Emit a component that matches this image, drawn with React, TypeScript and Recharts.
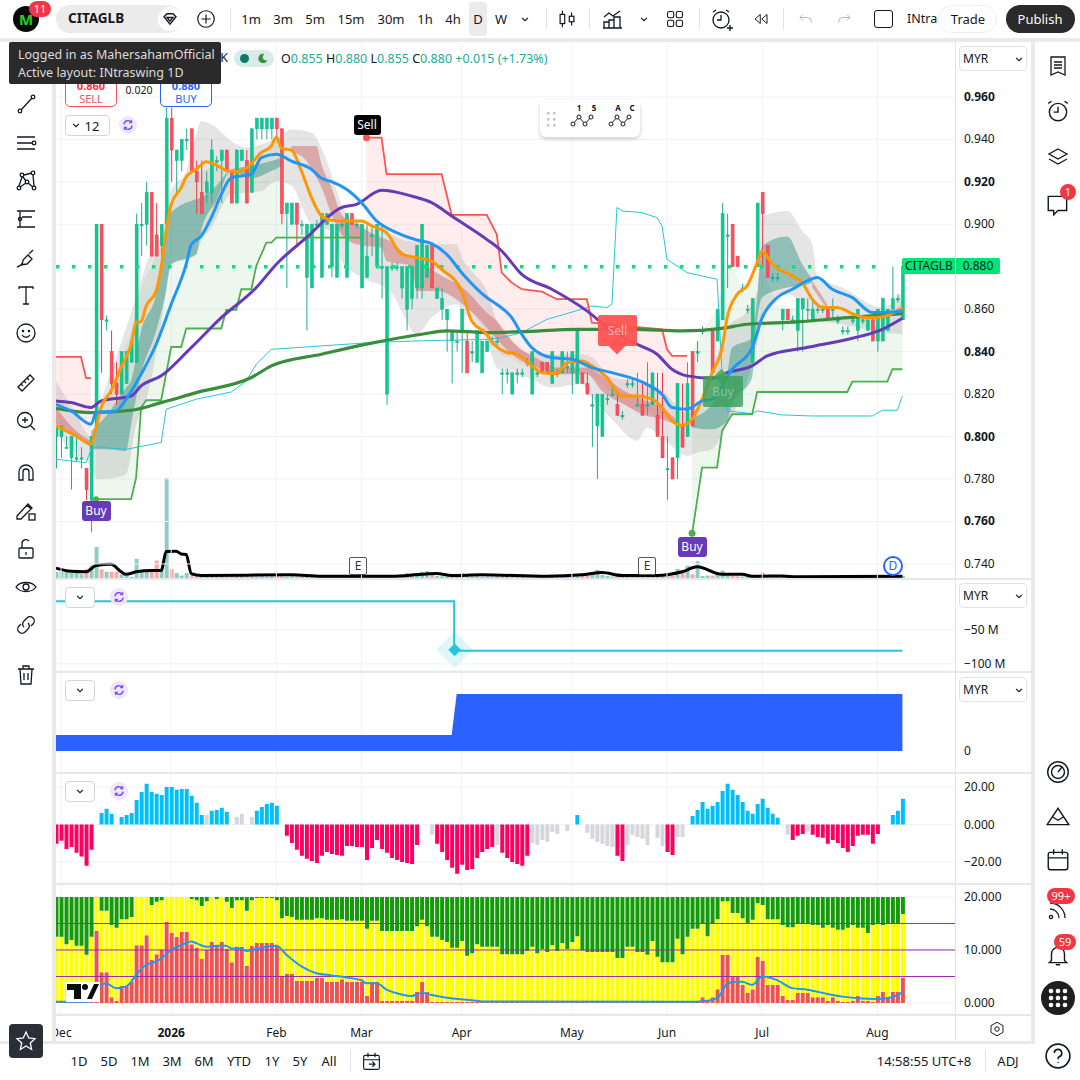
import { Area, Bar, CartesianGrid, ComposedChart, Line, ReferenceDot, ReferenceLine, XAxis, YAxis } from "recharts";

const FONT = '"Noto Sans", sans-serif';
const BAR_COUNT = 180;

const monthTicks = [1, 23, 44, 61, 81, 103, 122, 141, 164];
const monthNames = ["Dec", "2026", "Feb", "Mar", "Apr", "May", "Jun", "Jul", "Aug"];
const priceTicks = [0.74, 0.76, 0.78, 0.8, 0.82, 0.84, 0.86, 0.9, 0.92, 0.94, 0.96];
const boldPrices = ["0.960", "0.920", "0.840", "0.800", "0.760"];
const lastPrice = 0.88;

// open, high, low, close per daily bar
const ohlc: number[][] = [
  [.80,.805,.785,.805],[.80,.805,.79,.805],[.795,.80,.795,.795],[.79,.80,.775,.80],[.79,.80,.788,.79],[.79,.795,.785,.79],[.785,.785,.77,.775],[.77,.80,.755,.80],[.805,.90,.805,.90],[.90,.90,.83,.855],
  [.855,.857,.85,.855],[.84,.85,.82,.825],[.825,.835,.815,.82],[.82,.84,.82,.84],[.825,.84,.825,.84],[.835,.845,.835,.845],[.835,.905,.835,.90],[.90,.91,.885,.90],[.90,.92,.89,.915],[.915,.915,.885,.885],
  [.895,.91,.885,.885],[.89,.90,.88,.90],[.90,.955,.90,.95],[.95,.955,.92,.935],[.93,.935,.915,.935],[.93,.94,.925,.94],[.94,.945,.935,.94],[.945,.945,.925,.925],[.925,.93,.905,.92],[.915,.93,.905,.905],
  [.915,.925,.91,.92],[.915,.94,.91,.935],[.93,.932,.925,.93],[.93,.935,.91,.935],[.935,.935,.925,.925],[.925,.925,.91,.91],[.91,.935,.91,.935],[.93,.935,.93,.935],[.93,.935,.91,.91],[.915,.945,.915,.945],
  [.945,.95,.94,.95],[.945,.95,.94,.95],[.945,.95,.94,.95],[.945,.95,.94,.95],[.95,.95,.94,.945],[.945,.945,.90,.905],[.905,.91,.87,.91],[.90,.91,.90,.91],[.91,.91,.89,.90],[.90,.902,.895,.90],
  [.875,.90,.85,.90],[.87,.90,.87,.90],[.90,.902,.898,.90],[.875,.905,.875,.905],[.90,.905,.90,.905],[.88,.90,.875,.90],[.875,.90,.875,.90],[.90,.902,.898,.90],[.875,.905,.875,.905],[.905,.905,.90,.90],
  [.90,.902,.898,.90],[.87,.90,.87,.90],[.875,.90,.875,.885],[.895,.90,.885,.895],[.88,.90,.88,.90],[.88,.90,.865,.88],[.82,.88,.815,.88],[.88,.882,.878,.88],[.88,.882,.878,.88],[.87,.88,.865,.88],
  [.86,.88,.85,.88],[.865,.88,.86,.88],[.87,.89,.865,.89],[.87,.90,.865,.90],[.875,.89,.875,.89],[.89,.89,.87,.87],[.865,.87,.865,.87],[.86,.87,.855,.865],[.855,.86,.84,.86],[.845,.85,.825,.85],
  [.845,.85,.84,.845],[.85,.86,.83,.86],[.845,.85,.83,.83],[.84,.845,.835,.84],[.835,.85,.835,.85],[.83,.845,.83,.845],[.84,.845,.84,.845],[.845,.847,.843,.845],[.845,.847,.843,.845],[.83,.832,.82,.83],
  [.83,.832,.825,.83],[.82,.83,.82,.83],[.83,.832,.825,.83],[.83,.832,.828,.83],[.835,.837,.833,.835],[.82,.84,.82,.84],[.83,.832,.828,.83],[.835,.835,.83,.83],[.835,.835,.83,.83],[.825,.84,.825,.84],
  [.83,.832,.828,.83],[.83,.84,.83,.84],[.833,.84,.83,.833],[.83,.84,.82,.84],[.825,.85,.825,.85],[.83,.83,.825,.825],[.825,.83,.82,.82],[.815,.82,.795,.815],[.805,.82,.78,.82],[.80,.82,.80,.82],
  [.818,.82,.815,.818],[.82,.825,.82,.82],[.815,.82,.81,.81],[.81,.812,.808,.81],[.825,.827,.823,.825],[.825,.827,.823,.825],[.815,.83,.815,.815],[.815,.825,.81,.81],[.815,.835,.81,.815],[.815,.83,.815,.83],
  [.81,.83,.80,.80],[.80,.83,.79,.79],[.785,.80,.77,.785],[.79,.79,.78,.78],[.79,.825,.78,.825],[.805,.825,.795,.795],[.80,.835,.80,.825],[.84,.84,.805,.805],[.84,.845,.835,.84],[.85,.852,.848,.85],
  [.825,.827,.823,.825],[.85,.85,.83,.83],[.845,.86,.845,.86],[.855,.91,.855,.905],[.895,.905,.87,.895],[.90,.90,.88,.88],[.885,.885,.88,.88],[.87,.872,.868,.87],[.86,.862,.858,.86],[.835,.865,.835,.865],
  [.88,.91,.88,.91],[.915,.915,.88,.905],[.89,.89,.875,.875],[.875,.877,.873,.875],[.875,.877,.873,.875],[.855,.86,.85,.86],[.86,.86,.855,.855],[.855,.857,.853,.855],[.85,.865,.84,.865],[.86,.865,.84,.865],
  [.86,.865,.855,.86],[.855,.865,.855,.86],[.86,.862,.858,.86],[.86,.862,.858,.86],[.86,.86,.855,.855],[.86,.865,.855,.86],[.855,.857,.853,.855],[.85,.852,.848,.85],[.85,.852,.848,.85],[.855,.857,.853,.855],
  [.85,.86,.845,.86],[.855,.857,.853,.855],[.85,.855,.85,.855],[.855,.855,.845,.845],[.845,.86,.84,.86],[.845,.865,.845,.865],[.85,.86,.85,.86],[.86,.88,.86,.865],[.865,.867,.863,.865],[.855,.88,.855,.88],
];

// [bar, value] at the turning points of each line
const emaFast = [[0,.805],[2,.8027],[4,.8003],[7,.7964],[8,.8042],[9,.8137],[11,.8215],[13,.8325],[15,.8435],[16,.8537],[17,.8542],[18,.8615],[20,.8686],[21,.8796],[22,.8969],[23,.9094],[25,.9173],[26,.9223],[28,.9259],[30,.9295],[32,.9279],[34,.9254],[36,.9248],[38,.9264],[41,.9338],[43,.9369],[44,.9411],[45,.9358],[47,.9349],[49,.9251],[51,.9126],[53,.9039],[55,.9019],[58,.9016],[61,.9016],[63,.8992],[66,.8961],[69,.8859],[72,.8843],[75,.8827],[77,.8788],[81,.8686],[83,.8545],[86,.8482],[87,.8447],[90,.8396],[92,.8388],[95,.8333],[97,.8301],[100,.8297],[102,.8348],[105,.8356],[107,.8333],[110,.8278],[113,.8191],[116,.8191],[119,.8176],[121,.8137],[123,.8074],[125,.8053],[127,.8081],[129,.8176],[131,.8301],[133,.8419],[134,.856],[136,.867],[138,.871],[140,.8819],[141,.8874],[143,.8812],[147,.8757],[149,.8725],[151,.8647],[153,.8608],[156,.8608],[159,.8579],[162,.856],[165,.8564],[169,.8608]];
const emaMid = [[0,.8152],[3,.8121],[7,.8058],[8,.8113],[12,.8121],[14,.8176],[17,.8294],[20,.8435],[23,.8623],[26,.8812],[27,.8903],[29,.8945],[31,.9031],[33,.9141],[35,.922],[39,.9236],[41,.9314],[44,.933],[47,.9298],[51,.9259],[53,.9217],[55,.9201],[58,.9165],[61,.9102],[64,.9016],[68,.8961],[72,.8926],[75,.8909],[78,.8859],[81,.8772],[86,.8655],[88,.8623],[91,.856],[93,.8482],[95,.8419],[99,.8372],[103,.8364],[107,.8325],[111,.8301],[118,.8246],[121,.8199],[123,.8137],[126,.8129],[129,.8168],[131,.8176],[135,.8317],[139,.8419],[141,.856],[144,.8655],[147,.8694],[150,.8733],[152,.8749],[155,.8694],[159,.8655],[163,.8584],[167,.8587],[169,.8592]];
const emaSlow = [[0,.8168],[3,.816],[7,.8137],[9,.8168],[15,.8191],[17,.8239],[21,.8286],[27,.8419],[33,.856],[40,.8702],[44,.8812],[50,.8937],[57,.9079],[60,.9094],[65,.916],[71,.9133],[75,.9102],[79,.9039],[86,.8929],[89,.8874],[93,.8764],[99,.8694],[106,.8592],[111,.8498],[116,.8435],[120,.8388],[123,.8317],[126,.8286],[131,.8275],[134,.8301],[139,.8333],[142,.838],[149,.8416],[154,.8438],[159,.8463],[165,.8505],[169,.8557]];
const sma200 = [[0,.8133],[7,.8113],[15,.8124],[21,.816],[28,.8207],[39,.8278],[43,.8333],[53,.8388],[63,.844],[73,.8482],[78,.8498],[86,.849],[93,.8494],[104,.8505],[115,.8505],[125,.8498],[133,.851],[138,.8529],[148,.854],[158,.856],[169,.8579]];
const channel = [[0,.7893],[6,.7877],[7,.794],[8,.7951],[14,.794],[21,.7972],[22,.8129],[28,.8176],[35,.821],[38,.8262],[40,.8341],[43,.8411],[53,.8427],[63,.8443],[73,.8451],[86,.8458],[89,.8466],[93,.849],[98,.8552],[105,.86],[107,.8615],[110,.8608],[111,.8623],[112,.9079],[113,.9063],[117,.9055],[120,.9031],[121,.8992],[122,.8835],[126,.8772],[132,.8741],[133,.8294],[134,.8121],[139,.8108],[140,.8121],[145,.8102],[151,.8097],[163,.8097],[165,.8124],[168,.8124],[169,.8191]];

// trailing stop lines, each with the edge of its fill: [bar, low, high]
const stopDownA = [[0,.806,.8375],[5,.80,.8375],[6,.798,.8275],[7,.796,.8275]];
const stopDownB = [[62,.9016,.9408],[65,.8961,.9408],[66,.894,.9236],[72,.883,.9236],[77,.878,.9236],[79,.874,.9044],[86,.848,.9044],[88,.842,.8953],[89,.838,.8772],[91,.837,.8725],[93,.834,.8694],[97,.831,.8683],[100,.829,.8647],[106,.83,.8647],[107,.829,.8537],[114,.814,.852],[121,.81,.8505],[122,.809,.8411],[123,.807,.838],[126,.805,.838]];
const stopUpA = [[8,.7705,.8045],[15,.7705,.85],[16,.7807,.86],[17,.8137,.87],[18,.8171,.875],[21,.8171,.89],[23,.8422,.91],[25,.8422,.917],[26,.8509,.922],[33,.8509,.929],[34,.8597,.926],[36,.8597,.925],[37,.8694,.9255],[39,.8694,.927],[40,.8804,.93],[42,.8914,.935],[43,.8914,.937],[44,.8937,.9411],[45,.8937,.934],[46,.8937,.901],[61,.8937,.90]];
const stopUpB = [[127,.754,.8403],[129,.7854,.8498],[132,.7854,.86],[133,.8027,.87],[135,.8105,.8804],[137,.8105,.8702],[139,.8105,.876],[140,.821,.8843],[144,.821,.8623],[151,.821,.8576],[158,.821,.856],[159,.8259,.856],[166,.8259,.857],[167,.8317,.86],[169,.8317,.8639]];

// [bar, low, high] of the shaded bands
const grayBand = [[0,.8011,.8262],[4,.7917,.8105],[7,.7854,.80],[8,.7799,.8089],[12,.7807,.8372],[14,.7823,.8513],[16,.8058,.8655],[18,.8168,.8812],[21,.8529,.8953],[23,.8812,.9157],[26,.8835,.9251],[28,.8859,.9424],[29,.8921,.9484],[31,.8984,.9471],[35,.9141,.9392],[38,.9149,.9361],[41,.9157,.9377],[44,.9204,.9408],[47,.9181,.9447],[51,.90,.9432],[53,.8984,.9361],[55,.8969,.9236],[57,.8827,.9094],[60,.8764,.9008],[67,.8678,.8953],[69,.8592,.8929],[72,.8482,.8914],[75,.856,.8906],[80,.8623,.8906],[81,.8592,.8843],[83,.8545,.878],[86,.8451,.8686],[88,.8325,.8545],[91,.8294,.8451],[94,.8278,.8396],[99,.8231,.8388],[105,.8246,.8388],[107,.8184,.8372],[111,.8081,.8278],[116,.798,.8262],[118,.8042,.8246],[121,.7995,.8215],[126,.7909,.8113],[128,.7925,.8144],[131,.794,.8309],[134,.8058,.8513],[138,.8262,.8592],[140,.8435,.8686],[141,.8545,.9035],[146,.867,.9063],[149,.8623,.8969],[151,.856,.8906],[152,.8545,.8749],[157,.8529,.8702],[165,.849,.8608],[169,.8482,.8686]];
const tealBandA = [[7,.794,.8027],[10,.794,.8097],[14,.7932,.8231],[15,.8058,.8262],[17,.8294,.8498],[20,.8498,.867],[22,.8686,.8937],[23,.8812,.9055],[28,.8859,.9118],[29,.8969,.9126],[32,.911,.9181],[35,.9251,.9259],[39,.9217,.9275],[43,.9251,.9298],[45,.9275,.9314]];
const tealBandB = [[127,.8042,.8089],[131,.8034,.8152],[134,.8074,.8294],[135,.8152,.8419],[139,.8278,.8466],[140,.8545,.8655],[141,.8655,.8898],[146,.8702,.8942],[149,.871,.8812],[151,.8725,.8741]];
const redBandA = [[0,.8058,.8137],[4,.7995,.8027],[7,.7948,.7979]];
const redBandB = [[47,.9338,.9369],[49,.9322,.9369],[52,.922,.9369],[53,.9173,.9283],[55,.9047,.9173],[57,.8953,.9047],[60,.8906,.90],[65,.889,.8937],[66,.8827,.8929],[71,.8804,.8843],[72,.8686,.8835],[76,.8686,.8772],[82,.8608,.8686],[86,.8513,.8584],[88,.8458,.8545],[91,.8388,.8451],[97,.8317,.8356],[100,.8294,.8325],[106,.8294,.8325],[109,.8215,.8286],[114,.8144,.8207],[117,.8105,.8176],[121,.8081,.8137],[125,.8042,.805]];
const redBandC = [[151,.8702,.8733],[154,.86,.8623]];

const volumes = [25,25,25,20,25,15,35,50,125,35,25,25,25,15,10,5,77,25,25,25,70,30,403,35,20,10,20,7,5,6,8,5,6,7,5,6,5,7,6,5,6,7,5,6,8,6,5,7,6,5,6,5,7,6,5,6,5,6,7,5,6,5,7,6,5,8,7,6,8,10,20,8,10,25,28,12,8,7,6,5,8,20,8,6,7,5,6,5,7,6,5,6,5,6,7,5,6,5,8,8,6,5,7,12,12,10,15,15,33,12,8,6,7,5,6,5,8,7,6,5,6,7,10,8,37,20,50,15,68,8,10,10,20,30,12,8,7,6,5,8,6,22,8,7,5,6,5,6,5,7,5,6,5,6,5,7,6,5,6,5,6,5,6,5,7,5,6,5,6,9];
const volumeAverage = [[0,40],[3,27],[6,25],[8,50],[11,55],[13,25],[14,15],[16,25],[19,30],[21,30],[22,107],[24,108],[25,97],[26,95],[27,17],[29,10],[47,13],[53,7],[67,7],[73,15],[76,18],[79,10],[85,13],[98,7],[105,13],[109,22],[113,10],[120,10],[125,25],[128,45],[133,15],[137,15],[139,7],[145,8],[148,5],[169,7]];

const flowLevels = [[0,-8.8],[80,-80.9]];
const blueLevels = [[0,16],[80,57]];

const histogram = [-10.3,-8.7,-13,-12,-15,-17,-22,-13.5,0,6.2,8.4,5.7,0,4,5.1,6.2,13.1,17.4,21.7,17.4,16.4,15.8,20,20,18.5,19,19,15.3,11.6,5.1,5.1,7.3,7.8,8.9,6.8,0,4.1,5.7,0,4.1,7.3,9.4,11,11.6,10,0,-6,-9.8,-13.5,-16.7,-18.3,-19.4,-20.5,-16.7,-14.6,-15.7,-16.2,-16.7,-11.4,-11.4,-12,-12,-18.9,-12.5,-8.2,-13,-15,-17.8,-18.9,-20,-20.5,-21,-10.9,0,0,-5.5,-10.3,-14.6,-18.9,-23,-26.3,-21.5,-24.2,-23.7,-17.8,-14.6,-13,-12,-10.9,-15,-17.8,-20,-21,-22,-16.7,-9.8,-10.9,-8.2,-9.3,-3.9,-5,0,-3.4,0,5.1,0,-4.4,-7.6,-9.3,-10.3,-11.4,-12,-16.7,-19.4,-10.9,-5.5,-6.6,-7.6,-10.9,0,-7.1,-11.4,-14.6,-16.2,-6.6,-6.6,0,4.6,7.8,12,8.4,10,12,17.9,21.7,18.5,15.8,12,7.3,5.7,11,13.7,8.9,5.7,3.6,0,-5.5,-8.2,-6,-5,-3.9,-5.5,-6.6,-7.1,-10.3,-8.2,-9.8,-12.5,-14.6,-11.4,-6,-5.5,-5.5,-10.3,-5,0,0,5.1,7.3,13.7];
const histogramGray = [30,36,37,39,75,88,95,96,97,98,99,100,102,106,107,108,109,110,111,114,115,116,117,118,120,121,124,125,146,150];

const yellowTop = [12.5,12.5,11.1,11.9,10.8,10.8,9.1,12.5,20,17.4,17.4,14.7,14.2,15.8,15.8,16.2,20,20,20,18.5,19.1,19.4,20,20,20,20,20,19.6,19.4,18.3,19.2,20,19.6,20,19.1,17.9,19.4,19.4,17.4,19.4,19.8,19.8,19.8,19.8,19.4,16,16.4,16.2,15.7,15.7,15.7,15.7,16,16,15.7,15.7,15.7,15.8,15.5,15.5,15.5,15.5,14,15.5,15.5,13.6,13.6,13.6,13.6,13.6,13.6,13.6,14.5,15.7,14.5,12.5,12.5,11.9,11.5,10.4,10.4,11.7,8.9,9.4,11.1,10.6,10.6,10.6,10.6,9.2,9.2,9.2,9.2,9.2,9.8,10.6,9.4,10.2,9.6,10.9,9.8,11.3,10.2,11.5,12.6,9.9,9.6,9.6,9.6,9.6,9.6,9.6,8.5,8.5,10.6,10.6,9.6,9.6,9.1,11.7,8.7,7.7,7.7,7.7,12.1,9.2,12.5,14,14,14.9,12.6,14.9,15.8,19.2,19.2,17,17,16,15.1,15.7,18.8,18.5,15.8,15.8,15.8,14.7,14.3,14.3,14.9,14.9,14.9,14.7,14.7,14.2,14.7,14.2,13.8,13.8,14.2,14.7,14.2,14.2,13.2,14.7,14.9,14.7,14.9,14.9,14.9,16.8];
const redTop = [.25,.25,.25,.25,.25,.25,.25,.25,13.6,5.8,5.8,1.1,.4,3.2,3.2,4,10.9,10.9,12.8,8.1,9.2,10,15.3,13.2,12.5,13.4,13.4,11.1,10.4,8.3,10,11.5,10.9,11.5,10.2,7.7,10.6,10.6,7,10.8,11.3,11.3,11.3,11.3,10.8,4.9,5.5,5.5,4.2,4.2,4.2,4.2,4.7,4.7,4,4,4,4.5,4,4,4,4,1.3,4,4,.4,.4,.4,.4,.4,.4,.4,2.1,4,2.1,.25,.25,.25,.25,.25,.25,.25,.25,.25,.25,.25,.25,.25,.25,.25,.25,.25,.25,.25,.25,.25,.25,.25,.25,.25,.25,.25,.25,.25,.25,.25,.25,.25,.25,.25,.25,.25,.25,.25,.25,.25,.25,.25,.25,.25,.25,.25,.25,.25,.25,.25,.25,.25,.25,1.1,.4,1.1,2.6,9.1,9.1,4.9,4.9,3.4,1.9,2.6,8.7,7.9,3.4,3.4,3.4,1.3,.6,.6,1.9,1.9,1.9,1.1,1.1,1.1,.4,1.1,.4,.2,.2,.4,1.3,.4,.4,.2,1.3,2.1,1.1,2.1,2.1,4.7];
const pressureAverage = [[0,.25],[7,.25],[9,3.3],[10,3.7],[12,2.8],[14,3.1],[15,4],[16,5.3],[18,7.2],[20,7.8],[21,8.4],[23,10],[25,10.9],[27,11.6],[28,11.3],[30,10.6],[32,10.8],[34,10.8],[35,10.3],[37,10.3],[38,9.8],[40,10.2],[42,10.6],[44,10.8],[46,9.1],[49,6.9],[52,5.6],[55,5.2],[58,4.8],[61,4.3],[62,3.7],[64,3.7],[66,2.5],[69,1.6],[71,1.3],[73,1.9],[75,1.5],[78,1],[82,.6],[84,.4],[85,.3],[126,.25],[128,.25],[130,.4],[132,.9],[133,2.1],[134,3.7],[136,4],[137,4],[139,3.4],[141,5],[144,4.3],[147,2.8],[150,2.5],[154,1.7],[157,1.2],[160,.9],[164,.75],[167,1.1],[169,2]];

const rows: Record<string, any>[] = Array.from({ length: BAR_COUNT }, (_, k) => ({ k }));
const putLine = (key: string, pts: number[][]) => pts.forEach(([k, v]) => { rows[k][key] = v; });
const putBand = (key: string, pts: number[][]) => pts.forEach(([k, lo, hi]) => { rows[k][key] = [lo, hi]; });
const putHigh = (key: string, pts: number[][]) => pts.forEach(([k, , hi]) => { rows[k][key] = hi; });
const putLow = (key: string, pts: number[][]) => pts.forEach(([k, lo]) => { rows[k][key] = lo; });

ohlc.forEach(([o, h, l, c], k) => {
  const row = rows[k];
  row.open = o; row.close = c; row.high = h; row.low = l;
  row.range = [l, h];
  if (c >= o) row.volUp = volumes[k]; else row.volDown = volumes[k];
  const v = histogram[k];
  if (v !== 0) {
    if (histogramGray.includes(k)) row.histGray = v;
    else if (v > 0) row.histBlue = v;
    else row.histRed = v;
  }
  row.pressRed = redTop[k];
  row.pressYellow = yellowTop[k] - redTop[k];
  row.pressGreen = 20 - yellowTop[k];
  row.flow = k < flowLevels[1][0] ? flowLevels[0][1] : flowLevels[1][1];
  row.blue = k < blueLevels[1][0] ? blueLevels[0][1] : blueLevels[1][1];
  if (k < 167) row.last = lastPrice;
});
putLine("emaFast", emaFast);
putLine("emaMid", emaMid);
putLine("emaSlow", emaSlow);
putLine("sma200", sma200);
putLine("channel", channel);
putLine("volAvg", volumeAverage);
putLine("pressAvg", pressureAverage);
putBand("gray", grayBand);
putBand("tealA", tealBandA);
putBand("tealB", tealBandB);
putBand("redA", redBandA);
putBand("redB", redBandB);
putBand("redC", redBandC);
putBand("fillDownA", stopDownA);
putBand("fillDownB", stopDownB);
putBand("fillUpA", stopUpA);
putBand("fillUpB", stopUpB);
putHigh("stopDownA", stopDownA);
putHigh("stopDownB", stopDownB);
putLow("stopUpA", stopUpA);
putLow("stopUpB", stopUpB);

const Candle = (props: any) => {
  const { x, y, width, height, payload } = props;
  if (!payload || payload.high == null || !(height > 0)) return null;
  const { open, close, high, low } = payload;
  const perUnit = height / (high - low);
  const cx = x + width / 2;
  const up = close >= open;
  const top = y + (high - Math.max(open, close)) * perUnit;
  const bodyH = Math.max(Math.abs(close - open) * perUnit, 1.5);
  const wick = up ? "#22ab94" : "#f23645";
  return (
    <g>
      <line x1={cx} x2={cx} y1={y} y2={y + height} stroke={wick} strokeWidth={1} />
      <rect x={cx - 1.5} y={top} width={3} height={bodyH} fill={up ? "#06cc8c" : "#f7525f"} stroke={wick} strokeWidth={0.5} />
    </g>
  );
};

const MonthTick = (props: any) => {
  const { x, y, index } = props;
  return (
    <text x={x} y={y + 15} textAnchor="middle" fontFamily={FONT} fontSize={12} fontWeight={monthNames[index] === "2026" ? 700 : 400} fill="#131722">
      {monthNames[index]}
    </text>
  );
};

const PriceTick = (props: any) => {
  const { x, y, payload } = props;
  const label = payload.value.toFixed(3);
  return (
    <text x={x} y={y + 4} textAnchor="start" fontFamily={FONT} fontSize={12} fontWeight={boldPrices.includes(label) ? 700 : 400} fill="#131722">
      {label}
    </text>
  );
};

const Diamond = (props: any) => {
  const { cx, cy } = props;
  return (
    <g transform={`translate(${cx - 2} ${cy - 1}) rotate(45)`}>
      <rect x={-13} y={-13} width={26} height={26} fill="#26c6da" fillOpacity={0.15} />
      <rect x={-4.5} y={-4.5} width={9} height={9} fill="#26c6da" />
    </g>
  );
};

const CHART_W = 1030;
const MARGIN = { top: 0, right: 0, bottom: 0, left: 53.5 };
const GRID = "#f0f3fa";
const paneStyle = (top: number) => ({ position: "absolute" as const, left: 0, top });
const axisText = { fontFamily: FONT, fontSize: 12, fill: "#131722" };
const hiddenX = <XAxis dataKey="k" type="category" scale="band" ticks={monthTicks} hide />;
const monthCoords = ({ offset }: any) => monthTicks.map((k) => offset.left + ((k + 0.5) * offset.width) / BAR_COUNT);

const Box = ({ x, y, w, h, style, children }: any) => (
  <div style={{ position: "absolute", left: x, top: y, width: w, height: h, boxSizing: "border-box", ...style }}>{children}</div>
);
const Txt = ({ x, y, children, size = 13, color = "#131722", weight = 400, center = true }: any) => (
  <div style={{ position: "absolute", left: x, top: y, transform: center ? "translate(-50%,-50%)" : "translateY(-50%)", fontFamily: FONT, fontSize: size, color, fontWeight: weight, whiteSpace: "nowrap", lineHeight: 1 }}>
    {children}
  </div>
);
const Icon = ({ x, y, size = 24, children, color = "#131722" }: any) => (
  <svg style={{ position: "absolute", left: x - size / 2, top: y - size / 2 }} width={size} height={size} viewBox="0 0 24 24" fill="none" stroke={color} strokeWidth={1.3}>
    {children}
  </svg>
);
const Badge = ({ x, y, children, w = 18 }: any) => (
  <div style={{ position: "absolute", left: x - w / 2, top: y - 8, width: w, height: 16, borderRadius: 8, background: "#f23645", color: "#fff", fontFamily: FONT, fontSize: 11, lineHeight: "16px", textAlign: "center" }}>{children}</div>
);
const Chevron = ({ x, y }: any) => (
  <Icon x={x} y={y} size={14}><path d="M7 10l5 5 5-5" strokeWidth={2} /></Icon>
);
const CollapseBox = ({ y, label, syncX = 119 }: any) => (
  <>
    <Box x={65} y={y} w={label ? 45 : 30} h={21} style={{ border: "1px solid #d1d4dc", borderRadius: 4, background: "#fff" }} />
    <Chevron x={label ? 76 : 80} y={y + 10} />
    {label && <Txt x={92} y={y + 11} size={13}>{label}</Txt>}
    <div style={{ position: "absolute", left: syncX - 9, top: y + 1, width: 18, height: 18, borderRadius: 9, background: "#ede7f6" }} />
    <Icon x={syncX} y={y + 10} size={14} color="#7c4dff"><path d="M5 11a7 7 0 0 1 13-3M19 13a7 7 0 0 1-13 3M18 4v4h-4M6 20v-4h4" strokeWidth={2.4} /></Icon>
  </>
);
const CurrencyBox = ({ y }: any) => (
  <>
    <Box x={959} y={y} w={68} h={25} style={{ border: "1px solid #e0e3eb", borderRadius: 4, background: "#fff" }} />
    <Txt x={963} y={y + 13} size={12} center={false}>MYR</Txt>
    <Chevron x={1019} y={y + 13} />
  </>
);
const Tag = ({ x, y, w, bg, children }: any) => (
  <div style={{ position: "absolute", left: x - w / 2, top: y - 10, width: w, height: 20, borderRadius: 3, background: bg, color: "#fff", fontFamily: FONT, fontSize: 12, lineHeight: "20px", textAlign: "center" }}>{children}</div>
);
const Earnings = ({ x }: any) => (
  <div style={{ position: "absolute", left: x - 9, top: 557, width: 18, height: 18, boxSizing: "border-box", border: "1.5px solid #555", borderRadius: 2, background: "#fff", fontFamily: FONT, fontSize: 12, lineHeight: "15px", textAlign: "center", color: "#333" }}>E</div>
);

const timeframes: [string, number][] = [["1m", 251], ["3m", 283], ["5m", 315], ["15m", 351], ["30m", 391], ["1h", 425], ["4h", 453], ["D", 478], ["W", 501]];
const ranges: [string, number][] = [["1D", 79], ["5D", 109], ["1M", 140], ["3M", 172], ["6M", 204], ["YTD", 239], ["1Y", 272], ["5Y", 300], ["All", 329]];

export default function App() {
  return (
    <div style={{ position: "absolute", left: 0, top: 0, width: 1080, height: 1080, overflow: "hidden", background: "#fff", fontFamily: FONT }}>
      {/* volume sits underneath the price pane */}
      <div style={paneStyle(478)}>
        <ComposedChart width={CHART_W} height={100} data={rows} margin={MARGIN}>
          {hiddenX}
          <YAxis orientation="right" width={75} domain={[0, 300]} ticks={[]} axisLine={false} tickLine={false} />
          <Bar dataKey="volUp" stackId="v" fill="#8fcdc4" barSize={4} isAnimationActive={false} />
          <Bar dataKey="volDown" stackId="v" fill="#f7a9a7" barSize={4} isAnimationActive={false} />
          <Line dataKey="volAvg" type="monotone" stroke="#000" strokeWidth={3} dot={false} connectNulls isAnimationActive={false} />
        </ComposedChart>
      </div>

      <div style={paneStyle(43)}>
        <ComposedChart width={CHART_W} height={536} data={rows} margin={MARGIN}>
          <CartesianGrid stroke={GRID} verticalCoordinatesGenerator={monthCoords} />
          {hiddenX}
          <YAxis orientation="right" width={75} domain={[0.7329, 0.9854]} allowDataOverflow ticks={priceTicks} interval={0} axisLine={false} tickLine={false} tickMargin={3} tick={PriceTick} />
          <Area dataKey="fillDownA" stroke="none" fill="#ff5252" fillOpacity={0.1} connectNulls dot={false} activeDot={false} isAnimationActive={false} />
          <Area dataKey="fillDownB" stroke="none" fill="#ff5252" fillOpacity={0.1} connectNulls dot={false} activeDot={false} isAnimationActive={false} />
          <Area dataKey="fillUpA" stroke="none" fill="#4caf50" fillOpacity={0.1} connectNulls dot={false} activeDot={false} isAnimationActive={false} />
          <Area dataKey="fillUpB" stroke="none" fill="#4caf50" fillOpacity={0.1} connectNulls dot={false} activeDot={false} isAnimationActive={false} />
          <Area dataKey="gray" type="monotone" stroke="none" fill="#8a8a8a" fillOpacity={0.22} connectNulls dot={false} activeDot={false} isAnimationActive={false} />
          <Area dataKey="tealA" type="monotone" stroke="none" fill="#00796b" fillOpacity={0.36} connectNulls dot={false} activeDot={false} isAnimationActive={false} />
          <Area dataKey="tealB" type="monotone" stroke="none" fill="#00796b" fillOpacity={0.36} connectNulls dot={false} activeDot={false} isAnimationActive={false} />
          <Area dataKey="redA" type="monotone" stroke="none" fill="#c62828" fillOpacity={0.32} connectNulls dot={false} activeDot={false} isAnimationActive={false} />
          <Area dataKey="redB" type="monotone" stroke="none" fill="#c62828" fillOpacity={0.32} connectNulls dot={false} activeDot={false} isAnimationActive={false} />
          <Area dataKey="redC" type="monotone" stroke="none" fill="#c62828" fillOpacity={0.32} connectNulls dot={false} activeDot={false} isAnimationActive={false} />
          <Line dataKey="channel" stroke="#26c6da" strokeWidth={1} dot={false} connectNulls isAnimationActive={false} />
          <Line dataKey="stopDownA" stroke="#ff5252" strokeWidth={1.8} dot={false} connectNulls isAnimationActive={false} />
          <Line dataKey="stopDownB" stroke="#ff5252" strokeWidth={1.8} dot={false} connectNulls isAnimationActive={false} />
          <Line dataKey="stopUpA" stroke="#4caf50" strokeWidth={1.8} dot={false} connectNulls isAnimationActive={false} />
          <Line dataKey="stopUpB" stroke="#4caf50" strokeWidth={1.8} dot={false} connectNulls isAnimationActive={false} />
          <Bar dataKey="range" shape={Candle} barSize={4} isAnimationActive={false} />
          <Line dataKey="last" stroke="#00e676" strokeWidth={3.5} strokeDasharray="3.5 12.5" dot={false} isAnimationActive={false} />
          <Line dataKey="sma200" type="monotone" stroke="#388e3c" strokeWidth={3.2} dot={false} connectNulls isAnimationActive={false} />
          <Line dataKey="emaSlow" type="monotone" stroke="#673ab7" strokeWidth={3} dot={false} connectNulls isAnimationActive={false} />
          <Line dataKey="emaFast" type="monotone" stroke="#ff9800" strokeWidth={3} dot={false} connectNulls isAnimationActive={false} />
          <Line dataKey="emaMid" type="monotone" stroke="#2196f3" strokeWidth={3} dot={false} connectNulls isAnimationActive={false} />
          <ReferenceDot x={8} y={0.7705} r={3} fill="#4caf50" stroke="none" />
          <ReferenceDot x={127} y={0.7545} r={3.5} fill="#4caf50" stroke="none" />
          <ReferenceDot x={62} y={0.9408} r={3.5} fill="#ff5252" stroke="none" />
        </ComposedChart>
      </div>

      <div style={paneStyle(579)}>
        <ComposedChart width={CHART_W} height={92} data={rows} margin={MARGIN}>
          <CartesianGrid stroke={GRID} verticalCoordinatesGenerator={monthCoords} />
          {hiddenX}
          <YAxis orientation="right" width={75} domain={[-110.3, 23.5]} ticks={[-50, -100]} interval={0} tickFormatter={(v: number) => `\u2212${Math.abs(v)} M`} axisLine={false} tickLine={false} tickMargin={3} tick={axisText} />
          <Line dataKey="flow" type="step" stroke="#26c6da" strokeWidth={2} dot={false} isAnimationActive={false} />
          <ReferenceDot x={80} y={-80.9} shape={Diamond} />
        </ComposedChart>
      </div>

      <div style={paneStyle(672)}>
        <ComposedChart width={CHART_W} height={100} data={rows} margin={MARGIN}>
          <CartesianGrid stroke={GRID} horizontal={false} verticalCoordinatesGenerator={monthCoords} />
          {hiddenX}
          <YAxis orientation="right" width={75} domain={[-21, 79]} ticks={[0]} interval={0} tickFormatter={() => "0"} axisLine={false} tickLine={false} tickMargin={3} tick={axisText} />
          <Area dataKey="blue" stroke="none" fill="#2962ff" fillOpacity={1} dot={false} activeDot={false} isAnimationActive={false} />
        </ComposedChart>
      </div>

      <div style={paneStyle(773)}>
        <ComposedChart width={CHART_W} height={110} data={rows} margin={MARGIN}>
          <CartesianGrid stroke={GRID} verticalCoordinatesGenerator={monthCoords} />
          {hiddenX}
          <YAxis orientation="right" width={75} domain={[-31.2, 27.47]} allowDataOverflow ticks={[-20, 0, 20]} interval={0} tickFormatter={(v: number) => (v === 0 ? "0.000" : v < 0 ? "\u221220.00" : "20.00")} axisLine={false} tickLine={false} tickMargin={3} tick={axisText} />
          <Bar dataKey="histBlue" stackId="h" fill="#00bfff" barSize={4} isAnimationActive={false} />
          <Bar dataKey="histRed" stackId="h" fill="#ff0061" barSize={4} isAnimationActive={false} />
          <Bar dataKey="histGray" stackId="h" fill="#d6d7db" barSize={4} isAnimationActive={false} />
        </ComposedChart>
      </div>

      <div style={paneStyle(884)}>
        <ComposedChart width={CHART_W} height={156} data={rows} margin={MARGIN}>
          <CartesianGrid stroke={GRID} verticalCoordinatesGenerator={monthCoords} />
          <XAxis dataKey="k" type="category" scale="band" ticks={monthTicks} interval={0} height={26} tick={MonthTick} axisLine={false} tickLine={false} />
          <YAxis orientation="right" width={75} domain={[-2.08, 22.45]} allowDataOverflow ticks={[0, 10, 20]} interval={0} tickFormatter={(v: number) => v.toFixed(3)} axisLine={false} tickLine={false} tickMargin={3} tick={axisText} />
          <Bar dataKey="pressRed" stackId="p" fill="#ef5350" barSize={4} isAnimationActive={false} />
          <Bar dataKey="pressYellow" stackId="p" fill="#ffff00" barSize={4} isAnimationActive={false} />
          <Bar dataKey="pressGreen" stackId="p" fill="#159a09" barSize={4} isAnimationActive={false} />
          <ReferenceLine y={5} stroke="#9c27b0" strokeWidth={1} />
          <ReferenceLine y={10} stroke="#9c27b0" strokeWidth={1} />
          <ReferenceLine y={15} stroke="#9c27b0" strokeWidth={1} />
          <Line dataKey="pressAvg" type="monotone" stroke="#2196f3" strokeWidth={2} dot={false} connectNulls isAnimationActive={false} />
        </ComposedChart>
      </div>

      {/* pane separators and frame */}
      {[578, 671, 772, 883, 1014].map((y) => (
        <Box key={y} x={56} y={y} w={975} h={2} style={{ background: "#e6e8ee" }} />
      ))}
      <Box x={955} y={42} w={1} h={998} style={{ background: "#e0e3eb" }} />
      <Box x={0} y={0} w={1080} h={38} style={{ background: "#fff" }} />
      <Box x={0} y={38} w={1080} h={4} style={{ background: "#e9e9ea" }} />
      <Box x={0} y={42} w={52} h={1002} style={{ background: "#fff" }} />
      <Box x={52} y={42} w={4} h={1002} style={{ background: "#e9e9ea" }} />
      <Box x={1031} y={42} w={4} h={1002} style={{ background: "#e9e9ea" }} />
      <Box x={1035} y={42} w={45} h={1038} style={{ background: "#fff" }} />
      <Box x={0} y={1041} w={1035} h={3} style={{ background: "#e9e9ea" }} />
      <Box x={0} y={1044} w={1035} h={36} style={{ background: "#fff" }} />

      {/* top toolbar */}
      <div style={{ position: "absolute", left: 13, top: 6, width: 26, height: 26, borderRadius: 13, background: "#0a0a0a" }} />
      <Txt x={26} y={19} size={15} color="#21d321" weight={700}>M</Txt>
      <Badge x={40} y={9} w={22}>11</Badge>
      <Box x={56} y={5} w={126} h={28} style={{ background: "#ebebeb", borderRadius: 14 }} />
      <Txt x={68} y={19} size={13.5} weight={700} center={false}>CITAGLB</Txt>
      <div style={{ position: "absolute", left: 158, top: 7, width: 24, height: 24, borderRadius: 12, background: "#fff" }} />
      <Icon x={170} y={19} size={18}><path d="M4 9l4-4h8l4 4-8 10zM8 10h8l-4 5z" strokeWidth={1.8} /></Icon>
      <Icon x={206} y={19} size={22}><circle cx={12} cy={12} r={9} /><path d="M12 7v10M7 12h10" /></Icon>
      <Box x={230} y={8} w={1} h={22} style={{ background: "#e0e3eb" }} />
      <Box x={469} y={2} w={18} h={34} style={{ background: "#ebebeb", borderRadius: 4 }} />
      {timeframes.map(([t, x]) => <Txt key={t} x={x} y={19}>{t}</Txt>)}
      <Chevron x={525} y={19} />
      <Box x={546} y={8} w={1} h={22} style={{ background: "#e0e3eb" }} />
      <Icon x={567} y={19} size={22}><path d="M7 3v18M17 5v14" /><rect x={4.5} y={7} width={5} height={10} fill="#fff" /><rect x={14.5} y={9} width={5} height={6} fill="#fff" /></Icon>
      <Box x={589} y={8} w={1} h={22} style={{ background: "#e0e3eb" }} />
      <Icon x={613} y={19} size={24}><path d="M3 10l5-4 4 3 7-5M3 21v-6h5v6M8 21v-8h5v8M13 21V10h6v11M2 21h19" /></Icon>
      <Chevron x={644} y={19} />
      <Icon x={675} y={19} size={20}><rect x={3} y={3} width={7.5} height={7.5} rx={2} /><rect x={13.5} y={3} width={7.5} height={7.5} rx={2} /><rect x={3} y={13.5} width={7.5} height={7.5} rx={2} /><rect x={13.5} y={13.5} width={7.5} height={7.5} rx={2} /></Icon>
      <Box x={699} y={8} w={1} h={22} style={{ background: "#e0e3eb" }} />
      <Icon x={722} y={20} size={24}><circle cx={11} cy={12} r={8} /><path d="M11 7v5H7M3 4l3-2M19 4l-3-2M17 20h6M20 17v6" /></Icon>
      <Icon x={761} y={19} size={18}><path d="M11 6l-7 6 7 6zM20 6l-7 6 7 6z" /></Icon>
      <Box x={783} y={8} w={1} h={22} style={{ background: "#e0e3eb" }} />
      <Icon x={806} y={19} size={18} color="#b2b5be"><path d="M8 6L4 10l4 4M4 10h10a5 5 0 0 1 5 5v2" /></Icon>
      <Icon x={844} y={19} size={18} color="#b2b5be"><path d="M16 6l4 4-4 4M20 10H10a5 5 0 0 0-5 5v2" /></Icon>
      <Box x={874} y={10} w={19} h={18} style={{ border: "1.3px solid #131722", borderRadius: 3 }} />
      <Txt x={907} y={19} size={12.5} center={false}>INtra</Txt>
      <Box x={938} y={5} w={59} h={28} style={{ border: "1px solid #eceef2", borderRadius: 14, background: "#fff" }} />
      <Txt x={968} y={19}>Trade</Txt>
      <Box x={1006} y={5} w={69} h={28} style={{ background: "#2a2a2a", borderRadius: 14 }} />
      <Txt x={1040} y={19} color="#fff">Publish</Txt>

      {/* left toolbar */}
      <Icon x={26} y={104}><circle cx={6} cy={19} r={1.8} /><circle cx={19} cy={5} r={1.8} /><path d="M7 18L18 6" /></Icon>
      <Icon x={26} y={143}><path d="M3 6h18M3 12h15M3 18h18" /><circle cx={20} cy={12} r={1.8} /></Icon>
      <Icon x={26} y={181}><circle cx={5} cy={19} r={1.8} /><circle cx={8} cy={6} r={1.8} /><circle cx={19} cy={4} r={1.8} /><circle cx={20} cy={19} r={1.8} /><circle cx={13} cy={13} r={1.8} /><path d="M5 17L8 8M10 6l8-2M19 6l1 11M6 18l6-4M14 14l5 4M9 8l3 4" /></Icon>
      <Icon x={26} y={219}><path d="M3 4h18M3 20h18M8 10h10M6 4v16" /><circle cx={6} cy={12} r={1.6} /></Icon>
      <Icon x={26} y={258}><path d="M3 21c4-1 6-4 6-7l5-5 4 4-5 5c-3 0-7 1-10 3zM15 8l4-4" /></Icon>
      <Icon x={26} y={295}><path d="M5 6V4h14v2M12 4v17M9 21h6" /></Icon>
      <Icon x={26} y={333}><circle cx={12} cy={12} r={9} /><circle cx={9} cy={10} r={0.6} /><circle cx={15} cy={10} r={0.6} /><path d="M8 14c2 3 6 3 8 0" /></Icon>
      <Icon x={26} y={383}><path d="M4 16L16 4l4 4L8 20zM7 13l2 2M10 10l2 2M13 7l2 2" /></Icon>
      <Icon x={26} y={421}><circle cx={11} cy={11} r={7.5} /><path d="M16.5 16.5L21 21M11 8v6M8 11h6" /></Icon>
      <Icon x={26} y={473}><path d="M5 19v-8a7 7 0 0 1 14 0v8h-4v-8a3 3 0 0 0-6 0v8z" /></Icon>
      <Icon x={26} y={511}><path d="M3 17L14 5l4 4L7 20H3zM13 6l4 4" /><rect x={15} y={15} width={6} height={6} /></Icon>
      <Icon x={26} y={549}><rect x={5} y={11} width={14} height={10} rx={1} /><path d="M8 11V7a4 4 0 0 1 7-3M12 15v3" /></Icon>
      <Icon x={26} y={587}><path d="M2 12c4-6 16-6 20 0-4 6-16 6-20 0z" /><circle cx={12} cy={12} r={3} /></Icon>
      <Icon x={26} y={625}><path d="M10 14a4 4 0 0 1 0-6l3-3a4 4 0 0 1 6 6l-2 2M14 10a4 4 0 0 1 0 6l-3 3a4 4 0 0 1-6-6l2-2" /></Icon>
      <Icon x={26} y={675}><path d="M4 6h16M9 6V3h6v3M6 6l1 15h10l1-15M10 10v7M14 10v7" /></Icon>
      <Box x={9} y={1024} w={34} h={34} style={{ background: "#2a2e39", borderRadius: 4 }} />
      <Icon x={26} y={1041} color="#fff"><path d="M12 3l2.7 6 6.3.7-4.7 4.3 1.3 6.5L12 17l-5.6 3.5 1.3-6.5L3 9.7 9.300 9z" /></Icon>

      {/* right toolbar */}
      <Icon x={1058} y={66}><path d="M5 3h14v18l-7-3-7 3zM8 8h8M8 11h8M8 14h8" /></Icon>
      <Icon x={1058} y={111} size={26}><circle cx={12} cy={13} r={8} /><path d="M12 8v5H8M3 5l3-2M21 5l-3-2" /></Icon>
      <Icon x={1058} y={157}><path d="M12 4l9 5-9 5-9-5zM3 14l9 5 9-5" /></Icon>
      <Icon x={1058} y={204} size={26}><path d="M3 5h17v13h-8l-4 4v-4H3z" /></Icon>
      <Badge x={1068} y={192} w={16}>1</Badge>
      <Icon x={1058} y={772} size={26}><circle cx={12} cy={12} r={9.500} /><circle cx={12} cy={12} r={6} /><path d="M12 12l4-5" /></Icon>
      <Icon x={1058} y={817} size={26}><path d="M2 19L12 4l10 15zM7 12l5 3 5-3" /></Icon>
      <Icon x={1058} y={860} size={26}><rect x={3} y={5} width={18} height={16} rx={2} /><path d="M3 10h18M8 2v5M16 2v5" /></Icon>
      <Icon x={1058} y={910} size={24}><circle cx={5} cy={19} r={1.6} /><path d="M4 11a9 9 0 0 1 9 9M4 5a15 15 0 0 1 15 15" /></Icon>
      <Badge x={1061} y={896} w={28}>99+</Badge>
      <Icon x={1058} y={955} size={26}><path d="M6 17V11a6 6 0 0 1 12 0v6l2 2H4zM10 21h4" /></Icon>
      <Badge x={1065} y={942} w={22}>59</Badge>
      <div style={{ position: "absolute", left: 1041, top: 981, width: 34, height: 34, borderRadius: 17, background: "#1f1f1f" }} />
      <svg style={{ position: "absolute", left: 1048, top: 988 }} width={20} height={20} viewBox="0 0 20 20" fill="#fff">
        {[3, 10, 17].map((cx) => [3, 10, 17].map((cy) => <circle key={`${cx}-${cy}`} cx={cx} cy={cy} r={2.3} />))}
      </svg>
      <Icon x={1058} y={1056} size={30}><circle cx={12} cy={12} r={9.500} /><path d="M9 9.500a3 3 0 1 1 4 3c-1 .4-1 1-1 2M12 17v.5" /></Icon>

      {/* bottom toolbar */}
      {ranges.map(([t, x]) => <Txt key={t} x={x} y={1061} size={13}>{t}</Txt>)}
      <Box x={350} y={1050} w={1} h={22} style={{ background: "#e0e3eb" }} />
      <Icon x={371} y={1061} size={21}><rect x={3} y={5} width={18} height={16} rx={2} /><path d="M3 10h18M8 2v5M16 2v5M9 15h7M13 12l3 3-3 3" /></Icon>
      <Txt x={924} y={1061} size={13}>14:58:55 UTC+8</Txt>
      <Box x={985} y={1050} w={1} h={22} style={{ background: "#e0e3eb" }} />
      <Txt x={1008} y={1061} size={13}>ADJ</Txt>
      <Icon x={997} y={1029} size={18}><path d="M12 3l8 4.500v9L12 21l-8-4.500v-9z" /><circle cx={12} cy={12} r={3} /></Icon>

      {/* legend and order boxes */}
      <Box x={234} y={50} w={40} h={17} style={{ background: "#d7ece8", borderRadius: 9 }} />
      <div style={{ position: "absolute", left: 240, top: 54, width: 9, height: 9, borderRadius: 5, background: "#0b7a6a" }} />
      <Icon x={262} y={58} size={13} color="#3b8f3b"><path d="M14 4a8 8 0 1 0 6 12 7 7 0 0 1-6-12z" fill="#3b8f3b" /></Icon>
      <div style={{ position: "absolute", left: 281, top: 50, fontFamily: FONT, fontSize: 12.5, lineHeight: "17px", whiteSpace: "nowrap", color: "#22ab94" }}>
        <span style={{ color: "#131722" }}>O</span>0.855 <span style={{ color: "#131722" }}>H</span>0.880 <span style={{ color: "#131722" }}>L</span>0.855 <span style={{ color: "#131722" }}>C</span>0.880 +0.015 (+1.73%)
      </div>
      <Box x={65} y={70} w={52} h={37} style={{ border: "1px solid #f7525f", borderRadius: 5, background: "#fff" }} />
      <Txt x={91} y={98} size={11} color="#f7525f">SELL</Txt>
      <Txt x={91} y={85} size={11} color="#f23645" weight={700}>0.860</Txt>
      <Txt x={139} y={90} size={10.5}>0.020</Txt>
      <Box x={160} y={70} w={52} h={37} style={{ border: "1px solid #2962ff", borderRadius: 5, background: "#fff" }} />
      <Txt x={186} y={98} size={11} color="#2962ff">BUY</Txt>
      <Txt x={186} y={85} size={11} color="#2962ff" weight={700}>0.880</Txt>
      <Box x={9} y={42} w={212} h={42} style={{ background: "#2a2a2a", borderRadius: 2 }} />
      <Txt x={18} y={55} size={12.5} color="#dcdcdc" center={false}>Logged in as MahersahamOfficial</Txt>
      <Txt x={18} y={73} size={12.5} color="#dcdcdc" center={false}>Active layout: INtraswing 1D</Txt>
      <Txt x={224} y={58} size={12.5}>K</Txt>

      <CollapseBox y={115} label="12" syncX={128} />
      <CollapseBox y={587} />
      <CollapseBox y={680} />
      <CollapseBox y={781} />
      <CurrencyBox y={46} />
      <CurrencyBox y={583} />
      <CurrencyBox y={677} />

      {/* floating drawing panel */}
      <Box x={540} y={100} w={100} h={37} style={{ background: "#fff", borderRadius: 6, boxShadow: "0 2px 4px rgba(0,0,0,.2)" }} />
      <svg style={{ position: "absolute", left: 547, top: 111 }} width={10} height={16} fill="#c4c6cc">
        {[1, 7].map((cx) => [2, 8, 14].map((cy) => <rect key={`${cx}-${cy}`} x={cx - 1} y={cy - 1} width={2.500} height={2.500} />))}
      </svg>
      {[570, 608].map((x) => (
        <svg key={x} style={{ position: "absolute", left: x, top: 112 }} width={28} height={16} fill="#fff" stroke="#131722" strokeWidth={1}>
          <path d="M3 12L9 5l6 7 6-7" fill="none" />
          <circle cx={3} cy={12} r={2} /><circle cx={9} cy={5} r={2} /><circle cx={15} cy={12} r={2} /><circle cx={21} cy={5} r={2} />
        </svg>
      ))}
      <Txt x={579} y={108} size={8} weight={700}>1</Txt>
      <Txt x={594} y={108} size={8} weight={700}>5</Txt>
      <Txt x={618} y={108} size={8} weight={700}>A</Txt>
      <Txt x={632} y={108} size={8} weight={700}>C</Txt>

      {/* strategy and event markers */}
      <Tag x={367} y={125} w={27} bg="#000">Sell</Tag>
      <Tag x={96} y={511} w={29} bg="#673ab7">Buy</Tag>
      <Tag x={692} y={547} w={29} bg="#673ab7">Buy</Tag>
      <div style={{ position: "absolute", left: 598, top: 315, width: 39, height: 31, borderRadius: 2, background: "rgba(255,82,82,.95)", color: "rgba(255,255,255,.55)", fontFamily: FONT, fontSize: 12, lineHeight: "31px", textAlign: "center" }}>Sell</div>
      <div style={{ position: "absolute", left: 611, top: 340, width: 12, height: 12, background: "rgba(255,82,82,.95)", transform: "rotate(45deg)" }} />
      <div style={{ position: "absolute", left: 716, top: 371, width: 11, height: 11, background: "rgba(76,175,80,.85)", transform: "rotate(45deg)" }} />
      <div style={{ position: "absolute", left: 703, top: 376, width: 40, height: 31, borderRadius: 2, background: "rgba(56,160,90,.82)", color: "rgba(255,255,255,.35)", fontFamily: FONT, fontSize: 12, lineHeight: "31px", textAlign: "center" }}>Buy</div>
      <Earnings x={358} />
      <Earnings x={647} />
      <div style={{ position: "absolute", left: 883, top: 556, width: 20, height: 20, boxSizing: "border-box", border: "2px solid #2962ff", borderRadius: 10, background: "#fff", color: "#2962ff", fontFamily: FONT, fontSize: 12, lineHeight: "16px", textAlign: "center" }}>D</div>

      {/* last price */}
      <Box x={902} y={258} w={53} h={16} style={{ background: "#00e676", borderRadius: "2px 0 0 2px" }} />
      <Txt x={905} y={266} size={12} center={false}>CITAGLB</Txt>
      <Box x={955} y={258} w={45} h={16} style={{ background: "#00e676", borderLeft: "1px solid #fff", borderRadius: "0 2px 2px 0" }} />
      <Txt x={978} y={266} size={12}>0.880</Txt>

      {/* watermark */}
      <svg style={{ position: "absolute", left: 66, top: 982 }} width={34} height={20} viewBox="0 0 34 20">
        <rect width={34} height={20} fill="#fff" />
        <path d="M1 2h14v15H8V8H1z M21 17l7-15h5l-7 15z" fill="#0a0a0a" />
        <circle cx={19} cy={5} r={3} fill="#0a0a0a" />
      </svg>
    </div>
  );
}
